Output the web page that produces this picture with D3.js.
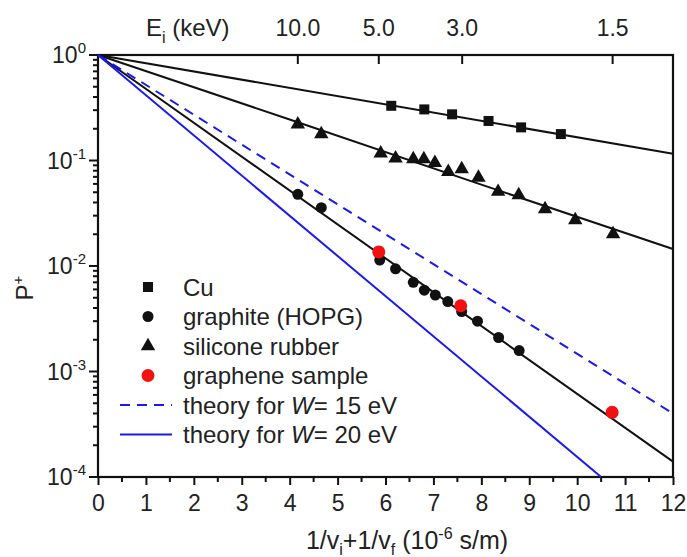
<!DOCTYPE html>
<head>
  <style>
    body { margin: 0; background: #fff; }
    svg text { font-family: "Liberation Sans", Arial, sans-serif; fill: #222; }
  </style>
  <script src="https://d3js.org/d3.v7.min.js"></script>
  <title></title>
</head>
<body>
<div class="home"></div>
</body>
<script>
    // measured points, x = 1/vi + 1/vf (1e-6 s/m), P = ion fraction
    const cuX = [6.12, 6.81, 7.39, 8.15, 8.83, 9.66];
    const cuP = [0.33, 0.305, 0.274, 0.237, 0.206, 0.178];

    const graphiteX = [4.17, 4.66, 5.88, 6.21, 6.58, 6.81, 7.04, 7.30, 7.59, 7.92, 8.36, 8.79];
    const graphiteP = [0.0478, 0.0357, 0.0114, 0.0094, 0.0070, 0.0059, 0.0053, 0.0046, 0.0037, 0.0030, 0.0021, 0.00158];

    const rubberX = [4.17, 4.66, 5.90, 6.21, 6.58, 6.80, 7.03, 7.31, 7.59, 7.94, 8.35, 8.78, 9.33, 9.96, 10.75];
    const rubberP = [0.220, 0.178, 0.117, 0.105, 0.103, 0.103, 0.095, 0.078, 0.083, 0.069, 0.0506, 0.047, 0.0347, 0.0273, 0.0201];

    const grapheneX = [5.86, 7.57, 10.73];
    const grapheneP = [0.0136, 0.0042, 0.00041];

    // fitted / theory curves
    const cuFitX = [0, 12], cuFitP = [1, 0.116];
    const rubberFitX = [0, 4, 8, 12], rubberFitP = [1, 0.245, 0.059, 0.0145];
    const graphiteFitX = [0, 12], graphiteFitP = [1, 0.00014];
    const w15X = [0, 12], w15P = [1, 0.0004];
    const w20X = [0, 10.5], w20P = [1, 0.0001];

    // top axis: primary energy
    const energyX = [4.17, 5.86, 7.60, 10.74];
    const energyLabels = ["10.0", "5.0", "3.0", "1.5"];

    const xTicks = d3.range(0, 13);
    const yDecades = [0, -1, -2, -3, -4];

    const width = 687, height = 557;
    const m = {left: 98, right: 673, top: 55, bottom: 477};

    const svg = d3.select(".home").append("svg")
        .attr("width", width)
        .attr("height", height);

    const x = d3.scaleLinear().domain([0, 12]).range([m.left, m.right]);
    const y = d3.scaleLog().domain([1e-4, 1]).range([m.bottom, m.top]);

    const zip = (xs, ps) => xs.map((v, i) => [v, ps[i]]);

    //bottom axis, ticks outward
    const xAxis = d3.axisBottom(x).tickValues(xTicks).tickSize(8).tickFormat(d3.format("d"));
    const gx = svg.append("g").attr("transform", `translate(0,${m.bottom})`).call(xAxis);
    gx.select(".domain").remove();
    gx.selectAll("line").attr("stroke", "#111").attr("stroke-width", 2);
    gx.selectAll("text").attr("font-size", 23).attr("dy", "0.95em").attr("y", 12).attr("font-family", null);
    svg.append("g").selectAll("line")
        .data(d3.range(0.5, 12, 1)).enter().append("line")
        .attr("x1", d => x(d)).attr("x2", d => x(d))
        .attr("y1", m.bottom).attr("y2", m.bottom + 5)
        .attr("stroke", "#111").attr("stroke-width", 2);

    //left axis
    const minors = [];
    for (let e = -4; e < 0; e++) for (let k = 2; k <= 9; k++) minors.push(k * Math.pow(10, e));
    svg.append("g").selectAll("line")
        .data(minors).enter().append("line")
        .attr("x1", m.left - 5).attr("x2", m.left)
        .attr("y1", d => y(d)).attr("y2", d => y(d))
        .attr("stroke", "#111").attr("stroke-width", 2);
    svg.append("g").selectAll("line")
        .data(yDecades).enter().append("line")
        .attr("x1", m.left - 9).attr("x2", m.left)
        .attr("y1", d => y(Math.pow(10, d))).attr("y2", d => y(Math.pow(10, d)))
        .attr("stroke", "#111").attr("stroke-width", 2);
    const yl = svg.append("g").selectAll("text")
        .data(yDecades).enter().append("text")
        .attr("x", m.left - 12)
        .attr("y", d => y(Math.pow(10, d)) + 8)
        .attr("text-anchor", "end")
        .attr("font-size", 23);
    yl.append("tspan").text("10");
    yl.append("tspan").attr("font-size", 15).attr("dy", -10).text(d => d === 0 ? "0" : "-" + (-d));

    //top axis (energy), ticks inward
    svg.append("g").selectAll("line")
        .data(energyX).enter().append("line")
        .attr("x1", d => x(d)).attr("x2", d => x(d))
        .attr("y1", m.top).attr("y2", m.top + 9)
        .attr("stroke", "#111").attr("stroke-width", 2);
    svg.append("g").selectAll("text")
        .data(energyX).enter().append("text")
        .attr("x", d => x(d)).attr("y", 36)
        .attr("text-anchor", "middle").attr("font-size", 23)
        .text((d, i) => energyLabels[i]);

    const et = svg.append("text").attr("x", 146).attr("y", 36).attr("font-size", 24);
    et.append("tspan").text("E");
    et.append("tspan").attr("font-size", 16).attr("dy", 7).text("i");
    et.append("tspan").attr("dy", -7).text(" (keV)");

    //frame
    svg.append("rect")
        .attr("x", m.left).attr("y", m.top)
        .attr("width", m.right - m.left).attr("height", m.bottom - m.top)
        .attr("fill", "none").attr("stroke", "#111").attr("stroke-width", 2.2);

    //curves
    const line = d3.line().x(d => x(d[0])).y(d => y(d[1]));
    const curves = [
        {d: zip(cuFitX, cuFitP), c: "#111", dash: null},
        {d: zip(rubberFitX, rubberFitP), c: "#111", dash: null},
        {d: zip(graphiteFitX, graphiteFitP), c: "#111", dash: null},
        {d: zip(w15X, w15P), c: "#1a1aee", dash: "10,7"},
        {d: zip(w20X, w20P), c: "#1a1aee", dash: null}
    ];
    svg.append("g").selectAll("path")
        .data(curves).enter().append("path")
        .attr("d", d => line(d.d))
        .attr("fill", "none")
        .attr("stroke", d => d.c)
        .attr("stroke-width", 2)
        .attr("stroke-dasharray", d => d.dash);

    //markers
    const sq = d3.symbol().type(d3.symbolSquare).size(100);
    const tri = d3.symbol().type(d3.symbolTriangle).size(90);
    svg.append("g").selectAll("path")
        .data(zip(cuX, cuP)).enter().append("path")
        .attr("d", sq)
        .attr("transform", d => `translate(${x(d[0])},${y(d[1])})`)
        .attr("fill", "#111");
    svg.append("g").selectAll("path")
        .data(zip(rubberX, rubberP)).enter().append("path")
        .attr("d", tri)
        .attr("transform", d => `translate(${x(d[0])},${y(d[1])})`)
        .attr("fill", "#111");
    svg.append("g").selectAll("circle")
        .data(zip(graphiteX, graphiteP)).enter().append("circle")
        .attr("cx", d => x(d[0])).attr("cy", d => y(d[1])).attr("r", 5.5)
        .attr("fill", "#111");
    svg.append("g").selectAll("circle")
        .data(zip(grapheneX, grapheneP)).enter().append("circle")
        .attr("cx", d => x(d[0])).attr("cy", d => y(d[1])).attr("r", 6.5)
        .attr("fill", "#f21010");

    //legend
    const legendItems = [
        {label: "Cu", kind: "sq"},
        {label: "graphite (HOPG)", kind: "circle"},
        {label: "silicone rubber", kind: "tri"},
        {label: "graphene sample", kind: "red"},
        {label: "theory for |W|= 15 eV", kind: "dash"},
        {label: "theory for |W|= 20 eV", kind: "solid"}
    ];
    const lg = svg.append("g").selectAll("g")
        .data(legendItems).enter().append("g")
        .attr("transform", (d, i) => `translate(0,${287 + i * 29.5})`);
    lg.each(function (d) {
        const g = d3.select(this);
        if (d.kind === "sq") g.append("path").attr("d", sq).attr("transform", "translate(148,0)").attr("fill", "#111");
        if (d.kind === "tri") g.append("path").attr("d", tri).attr("transform", "translate(148,0)").attr("fill", "#111");
        if (d.kind === "circle") g.append("circle").attr("cx", 148).attr("r", 5.5).attr("fill", "#111");
        if (d.kind === "red") g.append("circle").attr("cx", 148).attr("r", 6.5).attr("fill", "#f21010");
        if (d.kind === "dash" || d.kind === "solid")
            g.append("line").attr("x1", 120).attr("x2", 172)
                .attr("stroke", "#1a1aee").attr("stroke-width", 2)
                .attr("stroke-dasharray", d.kind === "dash" ? "10,7" : null);
        const t = g.append("text").attr("x", 183).attr("y", 8.5).attr("font-size", 24);
        const parts = d.label.split("|");
        t.append("tspan").text(parts[0]);
        if (parts.length > 1) {
            t.append("tspan").attr("font-style", "italic").text(parts[1]);
            t.append("tspan").text(parts[2]);
        }
    });

    //axis titles
    const py = svg.append("text")
        .attr("transform", "translate(33,288) rotate(-90)")
        .attr("text-anchor", "middle").attr("font-size", 24);
    py.append("tspan").text("P");
    py.append("tspan").attr("font-size", 15).attr("dy", -10).text("+");

    const xt = svg.append("text").attr("x", 407).attr("y", 549)
        .attr("text-anchor", "middle").attr("font-size", 25);
    xt.append("tspan").text("1/v");
    xt.append("tspan").attr("font-size", 16).attr("dy", 6).text("i");
    xt.append("tspan").attr("dy", -6).text("+1/v");
    xt.append("tspan").attr("font-size", 16).attr("dy", 6).text("f");
    xt.append("tspan").attr("dy", -6).text(" (10");
    xt.append("tspan").attr("font-size", 16).attr("dy", -10).text("-6");
    xt.append("tspan").attr("dy", 10).text(" s/m)");
</script>
